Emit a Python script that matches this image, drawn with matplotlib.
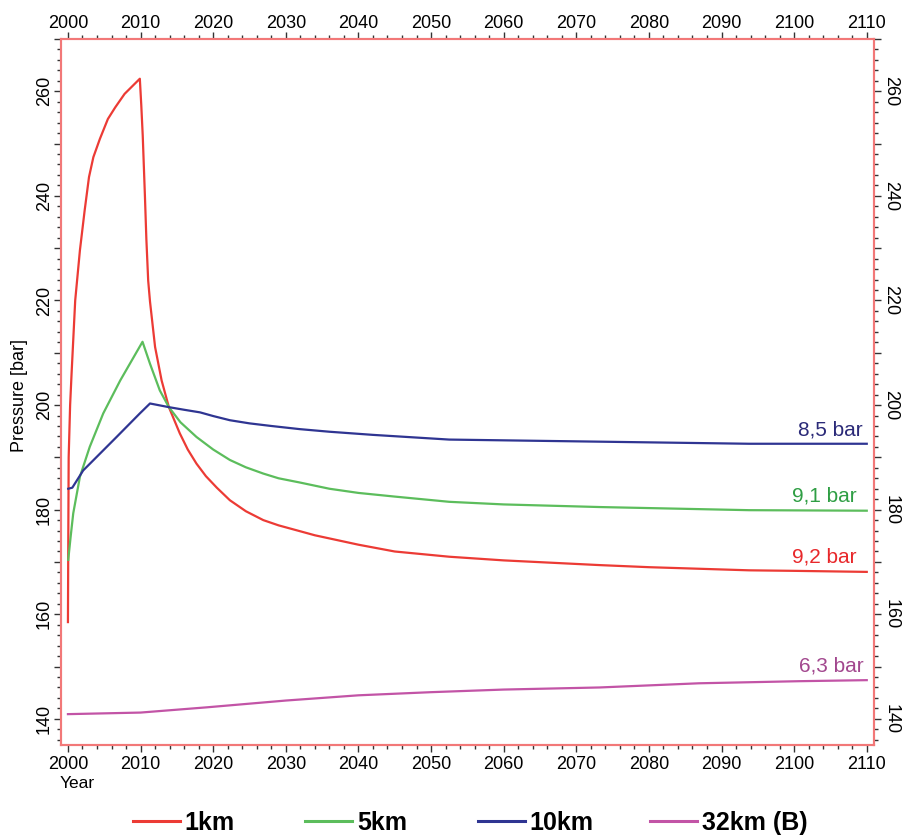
import numpy as np
import matplotlib
matplotlib.use("Agg")
import matplotlib.pyplot as plt
from matplotlib.ticker import MultipleLocator, FuncFormatter

plt.rcParams['font.family'] = ['Liberation Sans', 'DejaVu Sans']

# pressure at the different distances (year, bar)
red_year = [2000.0, 2000.05, 2000.1, 2000.3, 2000.5, 2001.0, 2001.65, 2002.3, 2002.9, 2003.5,
            2004.4, 2005.5, 2006.5, 2007.8, 2009.9, 2010.1, 2010.3, 2010.6, 2010.8, 2011.05,
            2011.3, 2012.0, 2012.9, 2013.9, 2015.4, 2016.5, 2017.7, 2019.0, 2020.5, 2022.3,
            2024.5, 2026.9, 2029.0, 2031.9, 2034.0, 2036.0, 2040.0, 2045.0, 2052.5, 2060.0,
            2073.2, 2080.0, 2093.8, 2100.0, 2110.0]
red_p = [158.5, 175.0, 190.0, 200.0, 206.0, 220.0, 229.6, 237.2, 243.6, 247.4,
         250.9, 254.7, 256.9, 259.5, 262.4, 257.3, 251.5, 240.0, 231.7, 223.8,
         219.8, 211.1, 204.7, 199.6, 194.6, 191.5, 188.8, 186.4, 184.2, 181.8,
         179.7, 178.0, 177.0, 175.9, 175.1, 174.5, 173.3, 172.0, 171.0, 170.3,
         169.4, 169.0, 168.4, 168.3, 168.1]

green_year = [2000.04, 2000.37, 2000.73, 2001.65, 2003.0, 2004.86, 2007.2, 2010.27, 2011.3, 2012.65,
              2013.9, 2015.5, 2017.7, 2020.0, 2022.3, 2024.5, 2026.9, 2029.0, 2031.9, 2036.0,
              2040.0, 2045.0, 2052.5, 2060.0, 2073.2, 2093.8, 2110.0]
green_p = [170.4, 174.8, 179.3, 186.3, 192.0, 198.4, 204.7, 212.1, 207.9, 202.8,
           199.6, 196.7, 193.9, 191.5, 189.5, 188.1, 186.9, 186.0, 185.2, 184.0,
           183.2, 182.5, 181.5, 181.0, 180.5, 179.9, 179.8]

blue_year = [2000.04, 2000.6, 2002.1, 2006.7, 2009.9, 2011.3, 2013.9, 2016.0, 2018.2, 2020.0,
             2022.3, 2025.0, 2028.0, 2031.9, 2036.0, 2042.0, 2052.5, 2073.2, 2093.8, 2110.0]
blue_p = [184.0, 184.2, 187.5, 193.9, 198.4, 200.3, 199.6, 199.1, 198.6, 197.9,
          197.1, 196.5, 196.0, 195.4, 194.9, 194.3, 193.4, 193.0, 192.6, 192.6]

mag_year = [2000.0, 2010.0, 2019.1, 2030.0, 2040.0, 2050.0, 2060.0, 2073.2, 2086.9, 2100.7, 2110.0]
mag_p = [140.9, 141.2, 142.2, 143.5, 144.5, 145.1, 145.6, 146.0, 146.8, 147.2, 147.4]

names = ['1km', '5km', '10km', '32km (B)']
line_colors = ['#ec3b35', '#5cbd5c', '#2f3592', '#c254a6']
text_colors = ['#e8282b', '#2f9e44', '#2b2a78', '#a2478e']
end_text = ['9,2 bar', '9,1 bar', '8,5 bar', '6,3 bar']
end_pos = [(2108.6, 169.8), (2108.6, 181.5), (2109.4, 194.2), (2109.6, 149.0)]

fig = plt.figure(figsize=(9.03, 8.40), dpi=100)
ax = fig.add_axes([0.0676, 0.1131, 0.9003, 0.8405])

series = [(red_year, red_p), (green_year, green_p), (blue_year, blue_p), (mag_year, mag_p)]
lines = []
for (x, y), c, lab in zip(series, line_colors, names):
    l, = ax.plot(x, y, color=c, linewidth=1.6, label=lab)
    lines.append(l)

for t, (tx, ty), c in zip(end_text, end_pos, text_colors):
    ax.text(tx, ty, t, color=c, fontsize=15, ha='right', va='baseline')

ax.set_xlim(1999.05, 2111.0)
ax.set_ylim(135, 270)

lab20 = FuncFormatter(lambda v, p: '%d' % v if int(round(v)) % 20 == 0 else '')

ax.xaxis.set_major_locator(MultipleLocator(10))
ax.xaxis.set_minor_locator(MultipleLocator(2))
ax.yaxis.set_major_locator(MultipleLocator(10))
ax.yaxis.set_minor_locator(MultipleLocator(2))
ax.yaxis.set_major_formatter(lab20)

ax.tick_params(which='both', direction='out', color='#333333', width=1.0,
               top=True, labeltop=True, labelsize=13)
ax.tick_params(which='major', length=5)
ax.tick_params(which='minor', length=3)
ax.tick_params(axis='x', which='major', pad=3)
ax.tick_params(axis='y', labelrotation=90, pad=1)
for t in ax.yaxis.get_major_ticks():
    t.label1.set_va('center')
for t in ax.xaxis.get_major_ticks():
    t.label2.set_va('baseline')

# right hand scale, same numbers turned the other way
ax2 = ax.twinx()
ax2.set_ylim(ax.get_ylim())
ax2.yaxis.set_major_locator(MultipleLocator(10))
ax2.yaxis.set_minor_locator(MultipleLocator(2))
ax2.yaxis.set_major_formatter(lab20)
ax2.tick_params(which='both', direction='out', color='#333333', width=1.0, labelsize=13)
ax2.tick_params(which='major', length=5)
ax2.tick_params(which='minor', length=3)
ax2.tick_params(axis='y', labelrotation=270, pad=1)
for t in ax2.yaxis.get_major_ticks():
    t.label2.set_va('center')
    t.label2.set_ha('left')

for a in (ax, ax2):
    for s in a.spines.values():
        s.set_color('#f27878')
        s.set_linewidth(1.5)

fig.text(0.066, 1 - 783 / 840, 'Year', fontsize=12.5, ha='left', va='center')
fig.text(20 / 903, 1 - 395 / 840, 'Pressure [bar]', fontsize=13, rotation=90,
         ha='center', va='center')

# legend entries sit on an even spacing
for i, (l, lab) in enumerate(zip(lines, names)):
    leg = fig.legend([l], [lab], loc='center left',
                     bbox_to_anchor=((132.6 + i * 172.5) / 903, 1 - 823 / 840),
                     frameon=False, borderpad=0, borderaxespad=0,
                     handlelength=1.88, handletextpad=0.2,
                     prop={'size': 18, 'weight': 'bold'})
    for ln in leg.get_lines():
        ln.set_linewidth(2.2)

plt.savefig("out.png", dpi=100)
plt.close()
